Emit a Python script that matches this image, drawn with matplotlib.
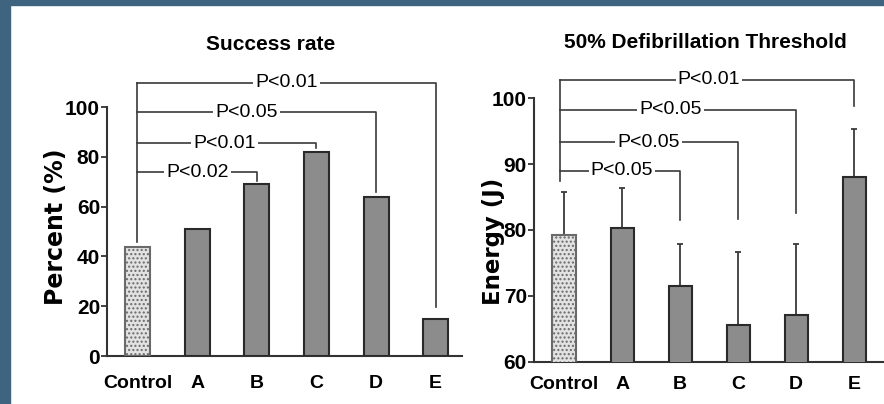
import matplotlib.pyplot as plt
from matplotlib.patches import Rectangle
import numpy as np

groups = ["Control", "A", "B", "C", "D", "E"]

success = [44, 51, 69, 82, 64, 15]
success_ticks = [0, 20, 40, 60, 80, 100]
success_sig = ["B", "C", "D", "E"]
success_p = ["P<0.02", "P<0.01", "P<0.05", "P<0.01"]

energy = [79.3, 80.3, 71.5, 65.5, 67.1, 88.0]
energy_err = [6.4, 6.1, 6.4, 11.2, 10.8, 7.3]
energy_ticks = [60, 70, 80, 90, 100]
energy_sig = ["B", "C", "D", "E"]
energy_p = ["P<0.05", "P<0.05", "P<0.05", "P<0.01"]

NARROW = ["Liberation Sans", "DejaVu Sans"]
LINE = "#3a3a3a"


def bars(ax, values, err=None, width=0.41):
    x = np.arange(len(values))
    cols = ["#e2e2e2"] + ["#8c8c8c"] * (len(values) - 1)
    b = ax.bar(x, values, width=width, color=cols, edgecolor="#2a2a2a",
               linewidth=1.5, zorder=3)
    b[0].set_hatch("....")
    b[0].set_edgecolor("#6a6a6a")
    if err is not None:
        ax.errorbar(x, values, yerr=[np.zeros(len(err)), err], fmt="none",
                    ecolor=LINE, elinewidth=1.3, capsize=2, capthick=1.3,
                    zorder=2)


def brackets(ax, targets, labels, levels, ends, start, x0=-0.04):
    label_x = [1.0, 1.45, 1.83, 2.5]
    ax.plot([x0, x0], [start, levels[-1]], color=LINE, lw=1.2, clip_on=False)
    for t, lab, lev, end, lx in zip(targets, labels, levels, ends, label_x):
        xi = groups.index(t)
        ax.plot([x0, xi, xi], [lev, lev, end], color=LINE, lw=1.2,
                clip_on=False)
        ax.text(lx, lev, lab, ha="center", va="center", fontsize=14,
                family=NARROW, clip_on=False,
                bbox=dict(facecolor="white", edgecolor="none", pad=1.5))


def style(ax, ticks, xpad):
    for s in ["top", "right"]:
        ax.spines[s].set_visible(False)
    for s in ["left", "bottom"]:
        ax.spines[s].set_linewidth(1.5)
        ax.spines[s].set_color("#333333")
    ax.set_yticks(ticks)
    ax.set_yticklabels([str(t) for t in ticks], family=NARROW,
                       fontweight="bold", fontsize=15)
    ax.set_xticks(range(len(groups)))
    ax.set_xticklabels(groups, family=NARROW, fontweight="bold", fontsize=14)
    ax.tick_params(axis="y", direction="out", length=4, width=1.3, pad=1,
                   color="#333333")
    ax.tick_params(axis="x", length=0, pad=xpad)
    ax.set_xlim(-0.52, 5.45)


fig = plt.figure(figsize=(8.84, 4.04), dpi=100)
fig.patches.append(Rectangle((0, 1 - 5 / 404), 1, 5 / 404,
                             transform=fig.transFigure, color="#3f6480"))
fig.patches.append(Rectangle((0, 0), 10 / 884, 1,
                             transform=fig.transFigure, color="#3f6480"))

ax1 = fig.add_axes([0.121, 0.1188, 0.402, 0.616])
bars(ax1, success, width=0.42)
style(ax1, success_ticks, 14)
ax1.set_ylim(0, 100)
ax1.set_ylabel("Percent (%)", fontsize=17, fontweight="bold")
ax1.yaxis.set_label_coords(-0.11, 0.52)
ax1.text(0.46, 1.25, "Success rate", transform=ax1.transAxes, ha="center",
         va="center", fontsize=15, fontweight="bold", family=NARROW)
brackets(ax1, success_sig, success_p, [73.8, 85.4, 97.9, 109.8],
         [70.3, 83.5, 66, 19.8], 45.9, x0=-0.02)

ax2 = fig.add_axes([0.604, 0.1047, 0.395, 0.652])
bars(ax2, energy, err=energy_err, width=0.40)
style(ax2, energy_ticks, 10)
ax2.set_xlim(-0.52, 5.5)
ax2.set_ylim(60, 100)
ax2.set_ylabel("Energy (J)", fontsize=16.5, fontweight="bold")
ax2.yaxis.set_label_coords(-0.083, 0.458)
ax2.text(0.49, 1.213, "50% Defibrillation Threshold", transform=ax2.transAxes,
         ha="center", va="center", fontsize=15, fontweight="bold",
         family=NARROW)
brackets(ax2, energy_sig, energy_p, [89.0, 93.3, 98.25, 102.8],
         [81.5, 81.6, 82.6, 98.9], 87.4, x0=-0.07)

fig.savefig("out.png", dpi=100)
